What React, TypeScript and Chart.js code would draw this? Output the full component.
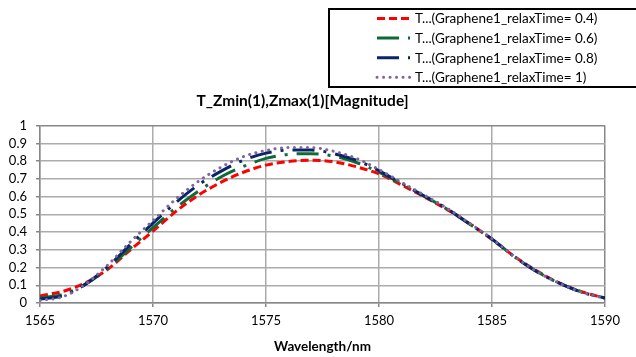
import { useEffect, useRef } from 'react';
import { Chart, registerables } from 'chart.js';

Chart.register(...registerables);

// Wavelength samples (nm)
const wavelengths = [
  1565, 1566, 1567, 1568, 1569, 1570, 1571, 1572, 1573, 1574, 1575, 1576, 1577,
  1578, 1579, 1580, 1581, 1582, 1583, 1584, 1585, 1586, 1587, 1588, 1589, 1590,
];

// Transmission magnitude for each graphene relaxation time
const relax04 = [
  0.040, 0.065, 0.113, 0.190, 0.300, 0.405, 0.515, 0.607, 0.680, 0.737, 0.777, 0.798, 0.805,
  0.796, 0.768, 0.728, 0.665, 0.598, 0.528, 0.448, 0.358, 0.262, 0.180, 0.112, 0.062, 0.028,
];
const relax06 = [
  0.028, 0.048, 0.105, 0.195, 0.310, 0.425, 0.535, 0.630, 0.710, 0.770, 0.815, 0.838, 0.842,
  0.828, 0.792, 0.738, 0.672, 0.602, 0.530, 0.446, 0.360, 0.261, 0.176, 0.110, 0.060, 0.028,
];
const relax08 = [
  0.022, 0.040, 0.105, 0.205, 0.330, 0.450, 0.565, 0.665, 0.742, 0.805, 0.845, 0.862, 0.862,
  0.842, 0.805, 0.745, 0.675, 0.603, 0.532, 0.446, 0.360, 0.260, 0.175, 0.110, 0.060, 0.028,
];
const relax10 = [
  0.015, 0.035, 0.105, 0.215, 0.345, 0.465, 0.585, 0.685, 0.765, 0.825, 0.860, 0.876, 0.876,
  0.855, 0.815, 0.752, 0.680, 0.608, 0.535, 0.450, 0.362, 0.262, 0.176, 0.110, 0.060, 0.028,
];

const seriesLabels = [
  'T...(Graphene1_relaxTime= 0.4)',
  'T...(Graphene1_relaxTime= 0.6)',
  'T...(Graphene1_relaxTime= 0.8)',
  'T...(Graphene1_relaxTime= 1)',
];

const xTickValues = [1565, 1570, 1575, 1580, 1585, 1590];
const yTickValues = [0, 0.1, 0.2, 0.3, 0.4, 0.5, 0.6, 0.7, 0.8, 0.9, 1];

const chartTitle = 'T_Zmin(1),Zmax(1)[Magnitude]';
const xAxisTitle = 'Wavelength/nm';

const FONT = 'Lato, "Open Sans", sans-serif';
const GRID = '#ABABAB';
const FRAME = '#878787';

// Boxed legend in the upper right, drawn from the datasets' own styles
const boxedLegend = {
  id: 'boxedLegend',
  afterDraw(chart: any) {
    const ctx = chart.ctx as CanvasRenderingContext2D;
    ctx.save();
    ctx.strokeStyle = '#000';
    ctx.lineWidth = 2;
    ctx.strokeRect(329, 9, 320, 78);
    ctx.font = `13.5px ${FONT}`;
    ctx.textBaseline = 'middle';
    ctx.textAlign = 'left';
    chart.data.datasets.forEach((ds: any, i: number) => {
      const y = 18.5 + i * 19.6;
      ctx.save();
      ctx.strokeStyle = ds.borderColor;
      ctx.lineWidth = ds.borderWidth;
      ctx.lineCap = ds.borderCapStyle || 'butt';
      ctx.setLineDash(ds.borderDash || []);
      ctx.beginPath();
      ctx.moveTo(377, y);
      ctx.lineTo(410, y);
      ctx.stroke();
      ctx.restore();
      ctx.fillStyle = '#000';
      ctx.fillText(ds.label, 415, y + 0.5);
    });
    ctx.restore();
  },
};

export default function App() {
  const canvasRef = useRef<HTMLCanvasElement | null>(null);

  useEffect(() => {
    if (!canvasRef.current) return;
    const toPoints = (vals: number[]) => wavelengths.map((x, i) => ({ x, y: vals[i] }));

    const chart = new Chart(canvasRef.current, {
      type: 'line',
      data: {
        datasets: [
          {
            label: seriesLabels[0],
            data: toPoints(relax04),
            borderColor: '#FF0000',
            borderWidth: 3,
            borderDash: [8, 4],
            order: 4,
          },
          {
            label: seriesLabels[1],
            data: toPoints(relax06),
            borderColor: '#0E6A36',
            borderWidth: 3,
            borderDash: [22, 9, 3, 9],
            order: 3,
          },
          {
            label: seriesLabels[2],
            data: toPoints(relax08),
            borderColor: '#0B2468',
            borderWidth: 3,
            borderDash: [22, 9, 3, 9],
            order: 2,
          },
          {
            label: seriesLabels[3],
            data: toPoints(relax10),
            borderColor: '#8064A2',
            borderWidth: 3,
            borderDash: [0.1, 6.4],
            borderCapStyle: 'round',
            order: 1,
          },
        ] as any,
      },
      options: {
        animation: false,
        responsive: false,
        maintainAspectRatio: false,
        layout: { padding: { top: 0, right: 31, left: 0, bottom: 0 } },
        elements: {
          point: { radius: 0, hoverRadius: 0 },
          line: { cubicInterpolationMode: 'monotone', fill: false },
        },
        plugins: {
          legend: { display: false },
          tooltip: { enabled: false },
          title: {
            display: true,
            text: chartTitle,
            color: '#000',
            font: { family: FONT, size: 15.5, weight: 'bold' },
            padding: { top: 92, bottom: 15 },
          },
        },
        scales: {
          x: {
            type: 'linear',
            min: 1565,
            max: 1590,
            afterBuildTicks: (scale: any) => {
              scale.ticks = xTickValues.map((value) => ({ value }));
            },
            afterFit: (scale: any) => {
              scale.height = 54;
            },
            ticks: {
              color: '#000',
              font: { family: FONT, size: 13 },
              padding: 6,
              maxRotation: 0,
              autoSkip: false,
              callback: (v: any) => String(v),
            },
            grid: {
              color: (c: any) => (c.tick && c.tick.value === 1590 ? FRAME : GRID),
              lineWidth: 1.5,
              drawTicks: true,
              tickLength: 4,
              tickColor: FRAME,
            },
            border: { display: true, color: FRAME, width: 1.5 },
            title: {
              display: true,
              text: xAxisTitle,
              color: '#000',
              font: { family: FONT, size: 13.5, weight: 'bold' },
              padding: { top: 0, bottom: 2 },
            },
          },
          y: {
            type: 'linear',
            min: 0,
            max: 1,
            afterBuildTicks: (scale: any) => {
              scale.ticks = yTickValues.map((value) => ({ value }));
            },
            afterFit: (scale: any) => {
              scale.width = 40;
            },
            ticks: {
              color: '#000',
              font: { family: FONT, size: 13 },
              padding: 9,
              autoSkip: false,
              callback: (v: any) => String(v),
            },
            grid: {
              color: (c: any) => (c.tick && c.tick.value === 1 ? FRAME : GRID),
              lineWidth: 1.5,
              drawTicks: true,
              tickLength: 4,
              tickColor: FRAME,
            },
            border: { display: true, color: FRAME, width: 1.5 },
          },
        },
      } as any,
      plugins: [boxedLegend],
    });

    return () => chart.destroy();
  }, []);

  return (
    <div style={{ position: 'fixed', left: 0, top: 0, width: 636, height: 357, background: '#fff' }}>
      <canvas ref={canvasRef} width={636} height={357} />
    </div>
  );
}
